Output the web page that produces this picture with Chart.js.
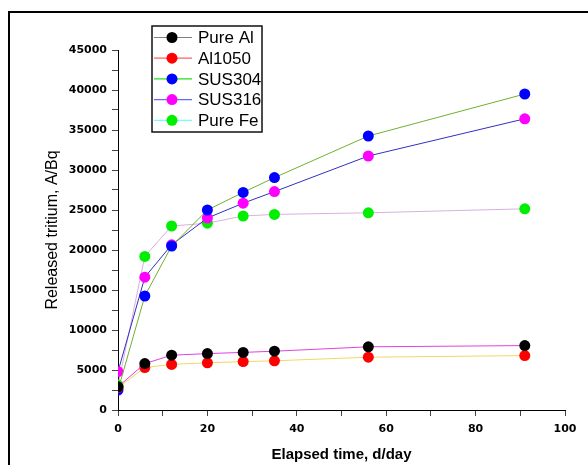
<!DOCTYPE html>
<html>
<head>
<meta charset="utf-8">
<script src="https://cdn.jsdelivr.net/npm/chart.js@4"></script>
<style>
  html, body { margin: 0; padding: 0; background: #fff; overflow: hidden; }
  #wrap { position: relative; width: 588px; height: 465px; overflow: hidden; }
  #frame { position: absolute; left: 8px; top: 11px; width: 700px; height: 600px; border: 2px solid #000; }
  #chart { position: absolute; left: 0; top: 0; }
</style>
</head>
<body>
<div id="wrap">
  <div id="frame"></div>
  <canvas id="chart" width="588" height="465"></canvas>
</div>
<script>
// elapsed time, days
const days = [0, 6, 12, 20, 28, 35, 56, 91];

const seriesNames = ["Pure Al", "Al1050", "SUS304", "SUS316", "Pure Fe"];
const pureAl = [2900, 5800, 6850, 7050, 7200, 7350, 7900, 8050];
const al1050 = [2800, 5300, 5700, 5900, 6050, 6150, 6600, 6800];
const sus304 = [2500, 14250, 20500, 25000, 27200, 29050, 34250, 39500];
const sus316 = [4800, 16600, 20650, 24000, 25850, 27300, 31750, 36400];
const pureFe = [3100, 19200, 23000, 23350, 24250, 24450, 24650, 25150];

const markerColors = ["#000000", "#ff0000", "#0000ff", "#ff00ff", "#00ee00"];
const lineColors = ["#e040e0", "#f0d860", "#70b030", "#3030c0", "#d8b0e0"];
const legendLineColors = ["#808080", "#ff6060", "#20e020", "#6868ff", "#70ffff"];

const allSeries = [pureAl, al1050, sus304, sus316, pureFe];

const datasets = allSeries.map((vals, i) => ({
  label: seriesNames[i],
  data: days.map((d, j) => ({ x: d, y: vals[j] })),
  borderColor: lineColors[i],
  borderWidth: 1,
  backgroundColor: markerColors[i],
  pointBackgroundColor: markerColors[i],
  pointBorderColor: markerColors[i],
  pointBorderWidth: 0,
  pointRadius: 5.5,
  tension: 0,
}));

// markers at t=0 are cut at the y axis in the original
const clipToAxes = {
  id: "clipToAxes",
  beforeDatasetsDraw(chart) {
    const a = chart.chartArea;
    chart.ctx.save();
    chart.ctx.beginPath();
    chart.ctx.rect(a.left, 0, chart.width - a.left, a.bottom);
    chart.ctx.clip();
  },
  afterDatasetsDraw(chart) {
    chart.ctx.restore();
  },
};

// legend box drawn inside the plot, like the original
const boxLegend = {
  id: "boxLegend",
  afterDraw(chart) {
    const ctx = chart.ctx;
    const left = 152, top = 26, w = 110, h = 106, rowH = 20.7;
    ctx.save();
    ctx.fillStyle = "#fff";
    ctx.fillRect(left, top, w, h);
    ctx.strokeStyle = "#111";
    ctx.lineWidth = 1.5;
    ctx.strokeRect(left, top, w, h);
    ctx.font = "17px 'Liberation Sans', Arial, sans-serif";
    ctx.textBaseline = "middle";
    seriesNames.forEach((name, i) => {
      const y = top + 11.5 + i * rowH;
      ctx.strokeStyle = legendLineColors[i];
      ctx.lineWidth = 1.2;
      ctx.beginPath();
      ctx.moveTo(left + 2, y);
      ctx.lineTo(left + 40, y);
      ctx.stroke();
      ctx.fillStyle = markerColors[i];
      ctx.beginPath();
      ctx.arc(left + 20, y, 5.5, 0, Math.PI * 2);
      ctx.fill();
      ctx.fillStyle = "#000";
      ctx.fillText(name, left + 46, y + 1);
    });
    ctx.restore();
  },
};

const tickFont = { family: "'DejaVu Sans', sans-serif", size: 11, weight: "bold" };

new Chart(document.getElementById("chart"), {
  type: "line",
  data: { datasets },
  plugins: [clipToAxes, boxLegend],
  options: {
    responsive: false,
    animation: false,
    devicePixelRatio: 1,
    layout: { padding: { left: 0, top: 50, right: 23, bottom: 0 } },
    plugins: { legend: { display: false }, tooltip: { enabled: false } },
    scales: {
      x: {
        type: "linear",
        min: 0,
        max: 100,
        afterFit(scale) { scale.height = 55; },
        ticks: {
          stepSize: 10,
          autoSkip: false,
          maxRotation: 0,
          color: "#000",
          font: tickFont,
          padding: 7,
          callback: (v) => (v % 20 === 0 ? v : ""),
        },
        grid: { display: true, drawOnChartArea: false, drawTicks: true, tickLength: 6, color: "#444" },
        border: { display: true, color: "#000", width: 1 },
        title: {
          display: true,
          text: "Elapsed time, d/day",
          color: "#000",
          font: { family: "'Liberation Sans', Arial, sans-serif", size: 15, weight: "bold" },
          padding: { top: 0, bottom: 1 },
        },
      },
      y: {
        min: 0,
        max: 45000,
        afterFit(scale) { scale.width = 118; },
        ticks: {
          stepSize: 2500,
          autoSkip: false,
          color: "#000",
          font: tickFont,
          padding: 5,
          callback: (v) => (v % 5000 === 0 ? v : ""),
        },
        grid: { display: true, drawOnChartArea: false, drawTicks: true, tickLength: 6, color: "#444" },
        border: { display: true, color: "#000", width: 1 },
        title: {
          display: true,
          text: "Released tritium, A/Bq",
          color: "#000",
          font: { family: "'Liberation Sans', Arial, sans-serif", size: 16 },
          padding: { top: 43, bottom: 0 },
        },
      },
    },
  },
});
</script>
</body>
</html>
